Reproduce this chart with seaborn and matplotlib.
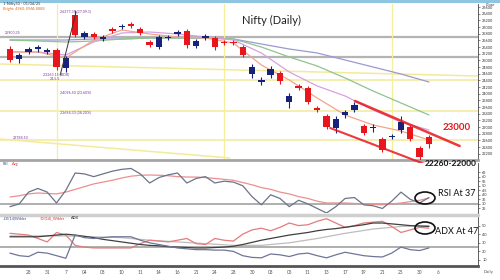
import numpy as np
import pandas as pd
import matplotlib
matplotlib.use("Agg")
import matplotlib.pyplot as plt
from matplotlib.patches import Ellipse
from matplotlib.lines import Line2D
import seaborn as sns

# ---------------- data ----------------
opens = [25340, 25040, 25250, 25340, 25250, 25310, 24770, 26360, 25700, 25790,
         25640, 25940, 26000, 26090, 25940, 25550, 25400, 25670, 25790, 25880,
         25430, 25670, 25670, 25550, 25550, 25400, 24590, 24350, 24560, 24620,
         23750, 24230, 24170, 23570, 23330, 22970, 23360, 23510, 23030, 22970,
         22640, 22700, 22910, 23000, 22370, 22700]
closes = [25010, 25160, 25340, 25400, 25310, 24800, 25070, 25760, 25820, 25700,
          25700, 25880, 26030, 26030, 25820, 25460, 25700, 25700, 25850, 25460,
          25580, 25730, 25400, 25520, 25520, 25160, 24800, 24410, 24740, 24380,
          23930, 24170, 23750, 23510, 23000, 23240, 23450, 23660, 22820, 23000,
          22310, 22730, 23150, 22640, 22100, 22490]
highs = [25430, 25220, 25400, 25460, 25370, 25370, 25130, 26510, 25880, 25850,
         25760, 26000, 26090, 26150, 26000, 25610, 25760, 25760, 25910, 25940,
         25640, 25790, 25730, 25610, 25610, 25460, 24890, 24500, 24830, 24680,
         24020, 24290, 24230, 23630, 23390, 23330, 23510, 23750, 23090, 23090,
         22700, 22790, 23330, 23060, 22430, 22760]
lows = [24950, 24920, 25190, 25250, 25190, 24710, 24650, 25700, 25640, 25640,
        25580, 25820, 25940, 25970, 25760, 25400, 25340, 25610, 25730, 25370,
        25370, 25610, 25310, 25460, 25460, 25100, 24470, 24260, 24470, 24290,
        23570, 24110, 23690, 23450, 22940, 22820, 23270, 23450, 22760, 22850,
        22250, 22640, 22820, 22580, 22010, 22370]

# moving averages sampled every 3 sessions
ma_idx = [0, 3, 6, 9, 12, 15, 18, 21, 24, 27, 30, 33, 36, 39, 42, 45]
ma_slow = [25610, 25610, 25610, 25640, 25640, 25670, 25670, 25670, 25640, 25490,
           25340, 25220, 25010, 24800, 24590, 24350]
ma_mid = [25610, 25580, 25550, 25580, 25640, 25670, 25670, 25670, 25640, 25400,
          25100, 24830, 24470, 24080, 23720, 23360]
ma_fast = [25250, 25250, 25160, 25550, 25820, 25850, 25790, 25700, 25610, 25220,
           24650, 24230, 23930, 23510, 23150, 22910]
ma_short = [25250, 25250, 25070, 25610, 25910, 25790, 25700, 25670, 25520, 24860,
            24410, 23870, 23360, 23060, 22880, 22610]

rsi = [27, 30, 43, 47, 43, 31, 45, 64, 63, 60, 63, 66, 68, 69, 63, 53, 59, 62,
       64, 53, 58, 60, 53, 55, 54, 50, 38, 29, 40, 36, 27, 34, 30, 25, 20, 27,
       36, 37, 29, 28, 25, 33, 43, 35, 31, 37]
rsi_avg = [37.6, 39, 41, 42, 41.5, 41, 43, 46, 49, 52, 54, 56, 58.5, 60.5, 61.5,
           61.8, 61.5, 61, 60, 59.6, 59.5, 59, 58, 57, 56, 53.5, 51, 48, 46, 43,
           41, 38, 36, 33, 31, 31, 31, 30.5, 30, 29.5, 29, 30, 31, 32.5, 34, 36.5]

di_minus = [41, 40, 39, 35, 31, 42, 39, 27, 25, 24, 24, 24, 24, 24, 29, 33, 32,
            31, 33, 35, 29, 28, 35, 33, 32, 40, 45, 47, 44, 48, 53, 50, 51, 55,
            58, 53, 48, 50, 53, 54, 55, 49, 42, 45, 48, 47]
di_plus = [18, 15, 14, 19, 18, 15, 12, 39, 36, 35, 36, 37, 37, 37, 33, 30, 28,
           26, 24, 23, 22, 22, 21.5, 21.5, 20, 15, 13, 12.5, 17, 16, 14, 17, 18,
           15, 12.5, 16, 19, 17, 15, 14, 13.5, 18, 25, 22, 21, 24]
adx = [37, 37, 37, 37, 38, 39, 40, 39, 37.5, 36, 34, 32.5, 31, 29.5, 28, 27,
       26.5, 25.5, 25, 24.5, 24, 24, 24.5, 25, 26, 28, 30.5, 33, 35, 37, 39,
       40.5, 42, 44, 45.5, 46.5, 48, 49.5, 51, 53, 53, 52, 51, 50, 49.5, 49]
adxr = [38, 38, 38, 37, 36, 33, 31, 29, 27, 27, 30, 35, 41, 46, 49, 50]

x_labels = ["28", "31", "7", "04", "08", "10", "11", "14", "16", "21", "24", "28",
            "30", "03", "05", "11", "13", "17", "19", "21", "25", "30", "6"]

# reference levels / trendlines
gray_levels = [25700, 25100]
fib_levels = [24410, 23480, 22610]
fib_slope_x, fib_slope_y = [-1.07, 50.27], [24890, 24530]
diag_x, diag_y = [-1.07, 23.6], [22640, 22070]
chan_up_x, chan_up_y = [37.06, 48.3], [23780, 22430]
chan_lo_x, chan_lo_y = [34.4, 46.2], [22970, 21710]
spike_x, spike_y = [5.4, 7.1], [24560, 26450]
sep_idx = [5, 23, 41]

# ---------------- figure ----------------
sns.set_style("white")
plt.rcParams["font.family"] = ["Lato", "DejaVu Sans"]

W, H = 500, 280
fig = plt.figure(figsize=(5, 2.8), dpi=100)
fig.patch.set_facecolor("white")


def box(x0, y0, x1, y1):
    return [x0 / W, 1 - y1 / H, (x1 - x0) / W, (y1 - y0) / H]


ax = fig.add_axes(box(0, 4, 478, 160))
ax_r = fig.add_axes(box(0, 163, 478, 213))
ax_a = fig.add_axes(box(0, 217, 478, 266))

XL = (-1.07, 50.27)
n = len(opens)
idx = np.arange(n)

UP, DN = "#16237a", "#e8161c"

# main panel background lines
for lv in gray_levels:
    ax.axhline(lv, color="#b4b4b4", lw=1.6, zorder=1)
for lv in fib_levels:
    ax.axhline(lv, color="#f3ea9a", lw=1.1, zorder=1)
ax.plot(fib_slope_x, fib_slope_y, color="#f3ea9a", lw=1.1, zorder=1)
ax.plot(diag_x, diag_y, color="#f3ea9a", lw=1.1, zorder=1)
for s in sep_idx:
    ax.axvline(s, color="#f5ee9c", lw=0.9, zorder=1)

# moving averages
ma_df = pd.DataFrame({"i": ma_idx, "slow": ma_slow, "mid": ma_mid,
                      "fast": ma_fast, "short": ma_short})
for col, c in [("slow", "#9a9ad2"), ("mid", "#8fc48f"),
               ("fast", "#d8a0e0"), ("short", "#f2a48c")]:
    sns.lineplot(data=ma_df, x="i", y=col, ax=ax, color=c, lw=0.9, zorder=2)

# candles
colors = [UP if c >= o else DN for o, c in zip(opens, closes)]
body_lo = np.minimum(opens, closes)
body_h = np.maximum(np.abs(np.array(closes) - np.array(opens)), 25)
ax.vlines(idx, lows, highs, colors=colors, lw=0.8, zorder=3)
ax.bar(idx, body_h, bottom=body_lo, width=0.68, color=colors, zorder=4,
       linewidth=0)

ax.plot(spike_x, spike_y, color="#333333", lw=0.7, zorder=5)
ax.plot(chan_up_x, chan_up_y, color=DN, lw=1.8, alpha=0.85, zorder=5,
        clip_on=False)
ax.plot(chan_lo_x, chan_lo_y, color=DN, lw=1.5, alpha=0.85, zorder=5,
        clip_on=False)

ax.set_xlim(*XL)
ax.set_ylim(22010, 26690)
ax.set_yticks(np.arange(22200, 26700, 200))

# RSI panel
r_df = pd.DataFrame({"i": idx, "rsi": rsi, "avg": rsi_avg})
ax_r.axhline(30, color="#a8a8a8", lw=1.3, zorder=1)
sns.lineplot(data=r_df, x="i", y="avg", ax=ax_r, color="#ec8f8f", lw=0.9)
sns.lineplot(data=r_df, x="i", y="rsi", ax=ax_r, color="#6c7488", lw=0.9)
ax_r.set_xlim(*XL)
ax_r.set_ylim(20, 75)
ax_r.set_yticks(np.arange(25, 70, 5))

# ADX panel
a_df = pd.DataFrame({"i": idx, "dim": di_minus, "dip": di_plus, "adx": adx})
ax_a.axhline(25, color="#a8a8a8", lw=1.3, zorder=1)
sns.lineplot(x=ma_idx, y=adxr, ax=ax_a, color="#bdbdbd", lw=0.9)
sns.lineplot(data=a_df, x="i", y="dim", ax=ax_a, color="#e57b7b", lw=0.9)
sns.lineplot(data=a_df, x="i", y="adx", ax=ax_a, color="#404040", lw=0.9)
sns.lineplot(data=a_df, x="i", y="dip", ax=ax_a, color="#6e7596", lw=0.9)
ax_a.set_xlim(*XL)
ax_a.set_ylim(3, 60)
ax_a.set_yticks([10, 20, 30, 40, 50])
ax_a.set_xticks(np.arange(2, 2 + 2 * len(x_labels), 2))
ax_a.set_xticklabels(x_labels)

for a in (ax, ax_r, ax_a):
    a.set_xlabel("")
    a.set_ylabel("")
    for sp in a.spines.values():
        sp.set_visible(False)
    a.spines["right"].set_visible(True)
    a.spines["right"].set_color("#444444")
    a.spines["right"].set_linewidth(0.6)
    a.yaxis.tick_right()
    a.tick_params(axis="y", labelsize=2.8, length=1.5, width=0.4, pad=1.5,
                  colors="#333333")
ax.tick_params(axis="x", bottom=False, labelbottom=False)
ax_r.tick_params(axis="x", bottom=False, labelbottom=False)
ax_a.tick_params(axis="x", length=0, labelsize=3.4, pad=3, colors="#555555")

ax.spines["bottom"].set_visible(True)
ax.spines["bottom"].set_color("#a5a5a5")
ax.spines["bottom"].set_linewidth(2)
ax_a.spines["bottom"].set_visible(True)
ax_a.spines["bottom"].set_color("#555555")
ax_a.spines["bottom"].set_linewidth(2)

# separator band between RSI and ADX + top border
fig.add_artist(Line2D([0, 478 / W], [1 - 215 / H] * 2, color="#cfcfcf", lw=2.5))
fig.add_artist(Line2D([0, 1], [1 - 1 / H] * 2, color="#8ec5e0", lw=2.2))


def ftext(x, y, s, **kw):
    fig.text(x / W, 1 - y / H, s, **kw)


ftext(271, 20, "Nifty (Daily)", fontsize=8, ha="center", va="center",
      color="#222222")
ftext(457, 128, "23000", fontsize=7, fontweight="bold", ha="center",
      va="center", color=DN)
ftext(451, 164, "22260-22000", fontsize=6.0, fontweight="bold", ha="center",
      va="center", color="#111111")
ftext(457, 193, "RSI At 37", fontsize=6.5, ha="center", va="center",
      color="#111111")
ftext(457, 232, "ADX At 47", fontsize=6.5, ha="center", va="center",
      color="#111111")
for cx, cy in [(425, 198), (425, 228)]:
    fig.add_artist(Ellipse((cx / W, 1 - cy / H), 20 / W, 12 / H,
                           transform=fig.transFigure, fill=False,
                           edgecolor="#111111", lw=1.2))

# small chart labels
ftext(3, 4, "1-Nifty50 - 01/04/25", fontsize=2.8, va="center", color="#333333")
ftext(3, 9, "Bright: 4960, EMA 8888", fontsize=2.8, va="center",
      color="#e07020")
ftext(60, 11, "26277.35 (27.09.1)", fontsize=2.6, va="center", color="#7a3a9a")
ftext(5, 33, "25900.35", fontsize=2.6, va="center", color="#7a3a9a")
ftext(43, 74, "23263.15 (BOR)", fontsize=2.6, va="center", color="#7a3a9a")
ftext(50, 79, "24.5.5", fontsize=2.6, va="center", color="#7a3a9a")
ftext(60, 92, "24096.50 (23.60%)", fontsize=2.6, va="center", color="#7a3a9a")
ftext(60, 112, "23698.30 (38.20%)", fontsize=2.6, va="center", color="#7a3a9a")
ftext(13, 138, "22788.50", fontsize=2.6, va="center", color="#7a3a9a")
ftext(3, 164, "RSI", fontsize=2.8, va="center", color="#3c4aa0")
ftext(12, 164, "Avg", fontsize=2.8, va="center", color="#e03030")
ftext(3, 218, "+DI(14)Wilder", fontsize=2.8, va="center", color="#3c4aa0")
ftext(40, 218, "-DI(14)_Wilder", fontsize=2.8, va="center", color="#e03030")
ftext(71, 218, "ADX", fontsize=2.8, va="center", color="#222222")
ftext(486, 5, "Close", fontsize=2.8, va="center", color="#333333")
ftext(484, 272, "Daily", fontsize=3.2, va="center", color="#555555")

fig.savefig("out.png", dpi=100, facecolor="white")
